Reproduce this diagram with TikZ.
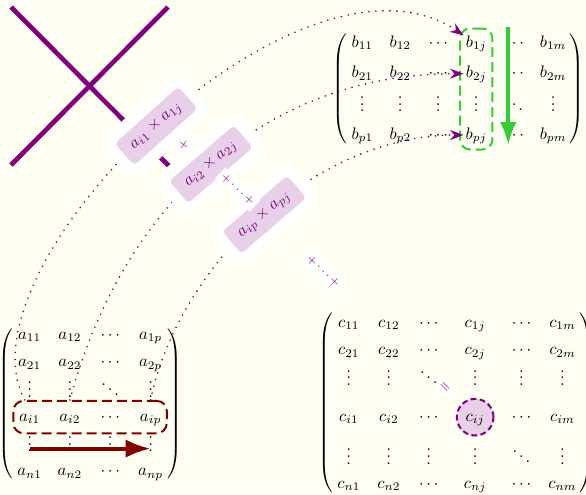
\documentclass[tikz,border=0pt]{standalone}
\usetikzlibrary{matrix, fit, arrows.meta}

\definecolor{mauve}{RGB}{128,0,128}
\definecolor{leaf}{RGB}{50,205,50}
\definecolor{wine}{RGB}{128,0,0}
\definecolor{paper}{RGB}{254,254,242}

\newcommand{\vdt}{\raisebox{-2pt}{$\vdots$}}
\newcommand{\ddt}{\raisebox{-2pt}{$\ddots$}}

\begin{document}
\begin{tikzpicture}[
  cell/.style={inner sep=0pt, text height=7pt, text depth=2pt},
  mat/.style={matrix of math nodes, inner sep=0.5pt,
    left delimiter=(, right delimiter=)},
  ring/.style={circle, draw=mauve, very thick, dash pattern=on 3.5pt off 2pt,
    fill=mauve!18, minimum size=22pt},
  band/.style={very thick, dash pattern=on 6pt off 3pt, rounded corners=6pt},
  link/.style={mauve, line width=1.1pt, line cap=round,
    dash pattern=on 0pt off 4.2pt, -{Stealth[length=8pt,width=6pt]}},
  prod/.style={sloped, midway, solid, text=mauve, fill=mauve!18, draw=white,
    line width=7pt, rounded corners=6pt, inner xsep=10pt, inner ysep=8pt},
  sum/.style={sloped, text=mauve, fill=white, inner sep=2pt, font=\scriptsize},
]

  % --- Fondo ---
  \useasboundingbox (0,0) rectangle (12.357,10.417);
  \fill[paper] (0,0) rectangle (12.357,10.417);

  % --- Croce ---
  \draw[mauve, line width=2.8pt] (0.232,10.269) -- (3.711,6.768);
  \draw[mauve, line width=2.8pt] (3.543,10.269) -- (0.232,6.937);

  % --- Matrice A ---
  \matrix (A) [mat, nodes={cell, minimum width=16pt},
    column sep=8.2pt, row sep=7.4pt] at (1.90,1.91) {
    a_{11} & a_{12} & \cdots & a_{1p} \\
    a_{21} & a_{22} & \cdots & a_{2p} \\
    \vdt & \vdt & \ddt & \vdt \\
    a_{i1} & a_{i2} & \cdots & a_{ip} \\
    \vdt & \vdt & \vdt & \vdt \\
    a_{n1} & a_{n2} & \cdots & a_{np} \\
  };

  % --- Matrice B ---
  \matrix (B) [mat, nodes={cell, minimum width=15pt},
    column sep=7.8pt, row sep=9.4pt] at (9.66,8.54) {
    b_{11} & b_{12} & \cdots & b_{1j} & \cdots & b_{1m} \\
    b_{21} & b_{22} & \cdots & b_{2j} & \cdots & b_{2m} \\
    \vdt & \vdt & \vdt & \vdt & \ddt & \vdt \\
    b_{p1} & b_{p2} & \cdots & b_{pj} & \cdots & b_{pm} \\
  };

  % --- Matrice C ---
  \matrix (C) [mat, nodes={cell, minimum width=15.6pt},
    column sep=8.4pt, row sep=7.5pt] at (9.62,1.91) {
    c_{11} & c_{12} & \cdots & c_{1j} & \cdots & c_{1m} \\
    c_{21} & c_{22} & \cdots & c_{2j} & \cdots & c_{2m} \\
    \vdt & \vdt & \ddt & \vdt & \vdt & \vdt \\
    c_{i1} & c_{i2} & \cdots & |[ring]| c_{ij} & \cdots & c_{im} \\
    \vdt & \vdt & \vdt & \vdt & \ddt & \vdt \\
    c_{n1} & c_{n2} & \cdots & c_{nj} & \cdots & c_{nm} \\
  };

  % --- Riga i e colonna j ---
  \node[band, draw=wine, inner xsep=1.5pt, inner ysep=5pt,
    fit=(A-4-1)(A-4-4)] (rowi) {};
  \node[band, draw=leaf, inner xsep=2pt, inner ysep=4pt,
    fit=(B-1-4)(B-4-4)] (colj) {};

  \draw[wine, line width=2.4pt, -{Latex[length=15pt,width=11pt]}]
    (A-5-1.base) -- (A-5-4.base);
  \draw[leaf, line width=2.4pt, -{Latex[length=14pt,width=10pt]}]
    ([shift={(-3.6pt,5pt)}]B-1-5.north) -- ([shift={(-3.6pt,-1.5pt)}]B-4-5.south);

  % --- Prodotti ---
  \draw[link] ([xshift=-3pt]rowi.north -| A-4-1) to[out=118, in=146,
      out looseness=0.68, in looseness=0.88]
    node[prod] (p1) {$a_{i1}\times a_{1j}$} (B-1-4.north west);
  \draw[link] (rowi.north -| A-4-2) to[out=75, in=180]
    node[prod] (p2) {$a_{i2}\times a_{2j}$} (B-2-4.west);
  \draw[link] (rowi.north -| A-4-4) to[out=78, in=180, looseness=0.9]
    node[prod] (p3) {$a_{ip}\times a_{pj}$} (B-4-4.west);

  % --- Somma ---
  \path (p1.center) -- node[sum] {$+$} (p2.center);
  \path (p2.center) -- node[sum] {$+\cdots+$} (p3.center);
  \path (p3.center) -- node[sum, pos=0.28] {$+\cdots+$}
    node[sum, pos=0.855, font=\footnotesize] {$=$} (C-4-4.center);

\end{tikzpicture}
\end{document}
